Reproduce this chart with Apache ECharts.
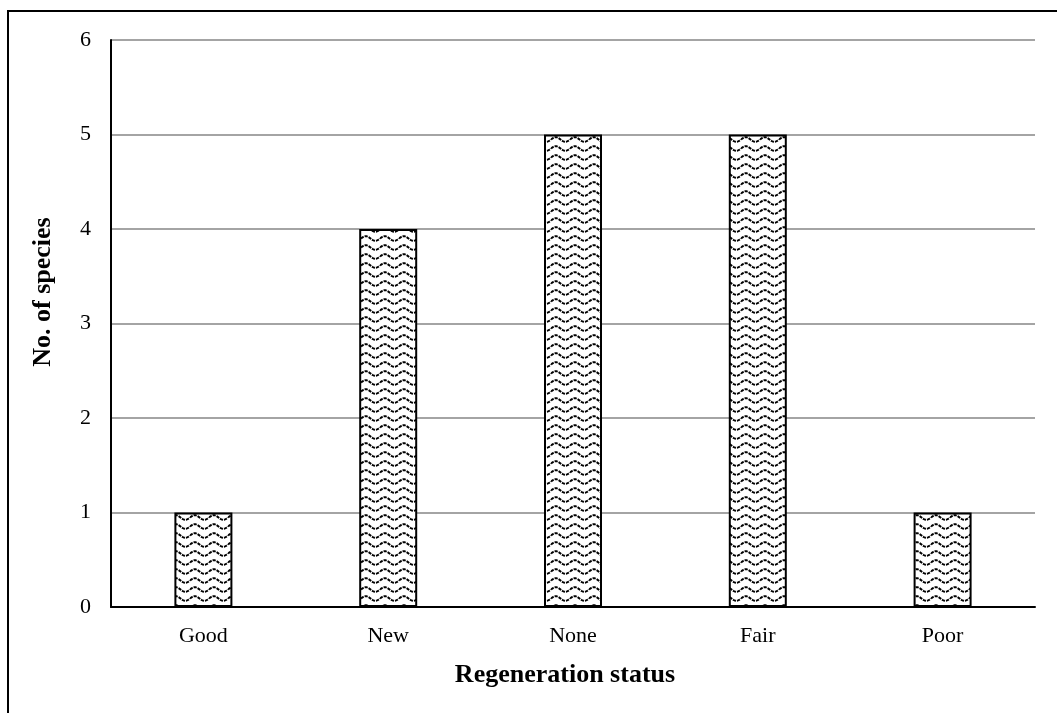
<!DOCTYPE html>
<html>
<head>
<meta charset="utf-8">
<script src="https://cdn.jsdelivr.net/npm/echarts@6/dist/echarts.min.js"></script>
<style>
  html, body { margin: 0; padding: 0; background: #fff; }
  #chart { width: 1057px; height: 713px; }
</style>
</head>
<body>
<div id="chart"></div>
<script>
// Regeneration status of species
const categories = ['Good', 'New', 'None', 'Fair', 'Poor'];
const speciesCount = [1, 4, 5, 5, 1];
const yTicks = { min: 0, max: 6, interval: 1 };

// Wavy dashed fill used for the bars
function makeWavePattern() {
  const w = 19, h = 9;
  const c = document.createElement('canvas');
  c.width = w; c.height = h;
  const ctx = c.getContext('2d');
  ctx.fillStyle = '#ffffff';
  ctx.fillRect(0, 0, w, h);
  ctx.strokeStyle = '#000000';
  ctx.lineWidth = 2;
  ctx.setLineDash([3.2, 1]);
  ctx.beginPath();
  for (let x = 0; x <= w; x += 0.5) {
    const y = 4.5 - 2.3 * Math.sin((x / w) * Math.PI * 2);
    if (x === 0) ctx.moveTo(x, y); else ctx.lineTo(x, y);
  }
  ctx.stroke();
  return c;
}

const chart = echarts.init(document.getElementById('chart'), null, { renderer: 'canvas' });
const serif = '"Liberation Serif", "Times New Roman", serif';

chart.setOption({
  animation: false,
  backgroundColor: '#ffffff',
  grid: { left: 111, right: 22, top: 40, bottom: 106, containLabel: false },
  graphic: [
    {
      type: 'rect',
      shape: { x: 8, y: 11, width: 1100, height: 760 },
      style: { fill: 'none', stroke: '#000', lineWidth: 2 },
      silent: true
    },
    {
      type: 'text',
      x: 43, y: 292,
      rotation: Math.PI / 2,
      style: {
        text: 'No. of species',
        font: 'bold 26px ' + serif,
        fill: '#000',
        align: 'center',
        verticalAlign: 'middle'
      }
    }
  ],
  xAxis: {
    type: 'category',
    data: categories,
    name: 'Regeneration status',
    nameLocation: 'middle',
    nameGap: 55,
    nameTextStyle: { fontFamily: serif, fontSize: 26, fontWeight: 'bold', color: '#000', padding: [0, 16, 0, 0] },
    axisLine: { lineStyle: { color: '#000', width: 2 } },
    axisTick: { show: false },
    axisLabel: { fontFamily: serif, fontSize: 22, color: '#000', margin: 18 }
  },
  yAxis: {
    type: 'value',
    min: yTicks.min,
    max: yTicks.max,
    interval: yTicks.interval,
    axisLine: { show: true, lineStyle: { color: '#000', width: 2 } },
    axisTick: { show: false },
    axisLabel: { fontFamily: serif, fontSize: 22, color: '#000', margin: 20 },
    splitLine: { lineStyle: { color: '#868686', width: 1.5 } }
  },
  series: [{
    type: 'bar',
    data: speciesCount,
    barWidth: 58,
    itemStyle: {
      color: { image: makeWavePattern(), repeat: 'repeat' },
      borderColor: '#000',
      borderWidth: 2
    }
  }]
});
</script>
</body>
</html>
